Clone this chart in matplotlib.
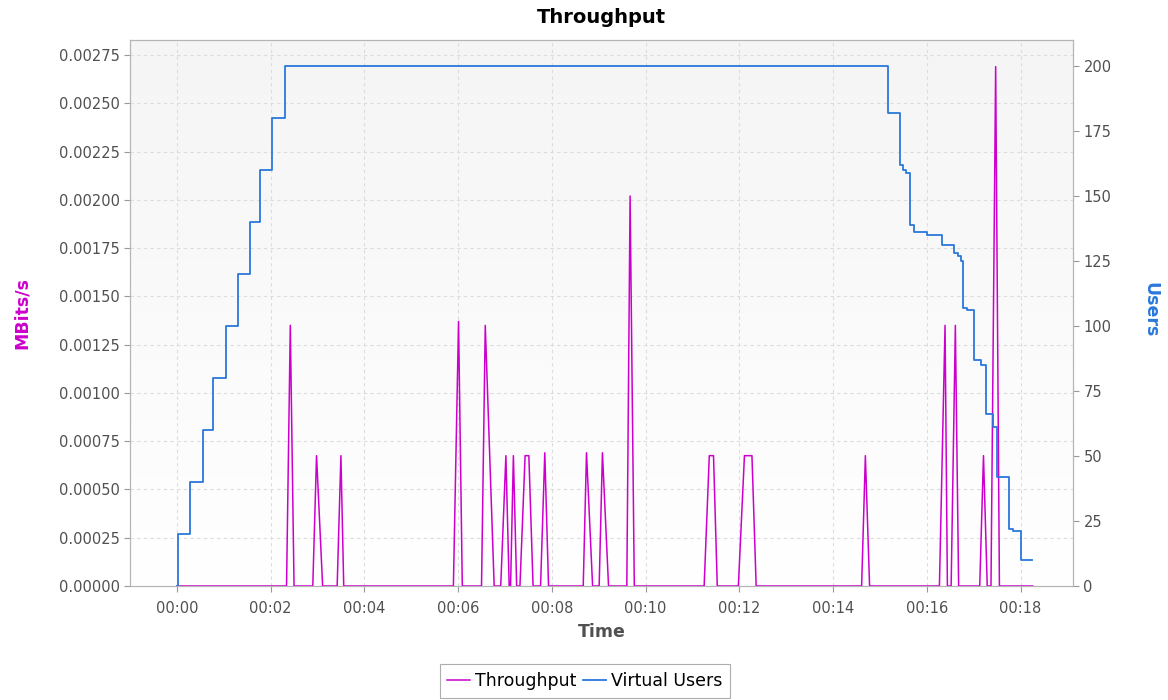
import numpy as np
import matplotlib
matplotlib.use('Agg')
import matplotlib.pyplot as plt
from matplotlib.ticker import FuncFormatter, MultipleLocator

# elapsed time in minutes
tp_time = [0.0, 2.34, 2.42, 2.50, 2.90, 2.98, 3.11, 3.42, 3.50, 3.56,
           5.90, 6.01, 6.09, 6.50, 6.58, 6.77, 6.91, 7.02, 7.09, 7.12,
           7.18, 7.25, 7.32, 7.43, 7.51, 7.60, 7.76, 7.85, 7.93, 8.67,
           8.74, 8.87, 9.01, 9.08, 9.21, 9.60, 9.67, 9.76, 11.25, 11.36,
           11.45, 11.53, 11.98, 12.11, 12.27, 12.36, 14.61, 14.69, 14.78, 16.27,
           16.39, 16.44, 16.52, 16.61, 16.68, 17.13, 17.21, 17.29, 17.37, 17.47,
           17.55, 18.26]
tp_mbits = [0, 0, 0.00135, 0, 0, 0.000675, 0, 0, 0.000675, 0,
            0, 0.00137, 0, 0, 0.00135, 0, 0, 0.000675, 0, 0,
            0.000675, 0, 0, 0.000675, 0.000675, 0, 0, 0.00069, 0, 0,
            0.00069, 0, 0, 0.00069, 0, 0, 0.00202, 0, 0, 0.000675,
            0.000675, 0, 0, 0.000675, 0.000675, 0, 0, 0.000675, 0, 0,
            0.00135, 0, 0, 0.00135, 0, 0, 0.000675, 0, 0, 0.00269,
            0, 0]

users_time = [0.0, 0.03, 0.28, 0.55, 0.78, 1.04, 1.30, 1.56, 1.78, 2.04,
              2.31, 15.17, 15.42, 15.50, 15.56, 15.65, 15.72, 16.0, 16.33, 16.59,
              16.66, 16.73, 16.78, 16.85, 17.0, 17.16, 17.26, 17.41, 17.49, 17.76,
              17.83, 18.02, 18.24]
users_n = [0, 20, 40, 60, 80, 100, 120, 140, 160, 180,
           200, 182, 162, 160, 159, 139, 136, 135, 131, 128,
           127, 125, 107, 106, 87, 85, 66, 61, 42, 22,
           21, 10, 10]

x_ticks = np.arange(0, 19, 2)

magenta = '#cc00cc'
blue = '#2a78dc'
grey_txt = '#505050'

plt.rcParams['font.family'] = ['DejaVu Sans']

fig = plt.figure(figsize=(11.68, 7.0), dpi=100)
ax = fig.add_axes([130 / 1168, 1 - 586 / 700, 943 / 1168, 546 / 700])
ax2 = ax.twinx()

xmin, xmax = -1.0, 19.12
ymax_l, ymax_r = 0.002828, 210

# soft gradient background
grad = np.linspace(0, 1, 256).reshape(-1, 1)
ax.imshow(grad, extent=[xmin, xmax, 0, ymax_l], aspect='auto', origin='lower',
          cmap=matplotlib.colors.LinearSegmentedColormap.from_list('bg', ['#ffffff', '#f5f5f5']),
          zorder=0)

ax.plot(tp_time, tp_mbits, color=magenta, lw=1.1, zorder=3, label='Throughput')
ax2.step(users_time, users_n, where='post', color=blue, lw=1.3, zorder=2, label='Virtual Users')

ax.set_xlim(xmin, xmax)
ax.set_ylim(0, ymax_l)
ax2.set_ylim(0, ymax_r)

ax.set_xticks(x_ticks)
ax.xaxis.set_major_formatter(FuncFormatter(lambda v, p: '%02d:%02d' % (int(v) // 60, int(v) % 60)))
ax.yaxis.set_major_locator(MultipleLocator(0.00025))
ax.yaxis.set_major_formatter(FuncFormatter(lambda v, p: '%.5f' % v))
ax2.yaxis.set_major_locator(MultipleLocator(25))

ax.grid(True, color='#dcdcdc', linestyle=(0, (3, 3)), lw=0.8, zorder=1)

for a in (ax, ax2):
    for s in a.spines.values():
        s.set_color('#b5b5b5')
    a.tick_params(colors='#999999', labelcolor=grey_txt, labelsize=10.5, length=4, width=0.8)
ax.tick_params(axis='x', pad=7)

ax.set_title('Throughput', fontsize=14, fontweight='bold', color='black', pad=12)
ax.set_xlabel('Time', fontsize=12.5, fontweight='bold', color=grey_txt, labelpad=5)
fig.text(22 / 1168, 1 - 313 / 700, 'MBits/s', rotation=90, color=magenta, fontsize=12.5,
         fontweight='bold', ha='center', va='center')
fig.text(1150 / 1168, 1 - 310 / 700, 'Users', rotation=270, color=blue, fontsize=12.5,
         fontweight='bold', ha='center', va='center')

h1, l1 = ax.get_legend_handles_labels()
h2, l2 = ax2.get_legend_handles_labels()
leg = fig.legend(h1 + h2, l1 + l2, loc='center', bbox_to_anchor=(585 / 1168, 1 - 681 / 700),
                 ncol=2, fontsize=12.5, frameon=True, fancybox=False, handlelength=1.3,
                 handletextpad=0.3, columnspacing=0.4, borderpad=0.45, borderaxespad=0)
leg.get_frame().set_edgecolor('#999999')
leg.get_frame().set_linewidth(0.8)

fig.savefig('out.png', dpi=100)
